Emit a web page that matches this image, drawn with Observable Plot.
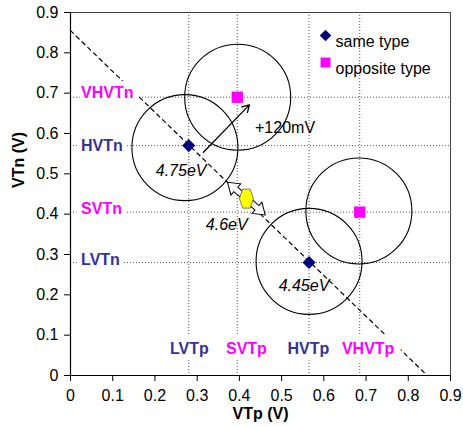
<!DOCTYPE html>
<html>
<head>
<meta charset="utf-8">
<script src="https://cdn.jsdelivr.net/npm/d3@7"></script>
<script src="https://cdn.jsdelivr.net/npm/@observablehq/plot@0.6"></script>
<style>
  html, body { margin: 0; padding: 0; background: #fff; }
  #chart { width: 463px; height: 427px; }
</style>
</head>
<body>
<div id="chart"></div>
<script>
// ---- data ----
const axisTicks = [0, 0.1, 0.2, 0.3, 0.4, 0.5, 0.6, 0.7, 0.8, 0.9];

const sameTypeX = [0.28, 0.565];
const sameTypeY = [0.57, 0.28];
const oppTypeX = [0.395, 0.685];
const oppTypeY = [0.69, 0.405];

const circleX = [0.271, 0.396, 0.565, 0.683];
const circleY = [0.565, 0.690, 0.283, 0.408];

const gridXValues = [0.28, 0.395, 0.565, 0.685];
const gridYValues = [0.28, 0.405, 0.57, 0.69];

const pLabels = ["LVTp", "SVTp", "HVTp", "VHVTp"];
const pLabelX = [0.2815, 0.4166, 0.5635, 0.705];
const pLabelY = [0.066, 0.066, 0.066, 0.066];
const nLabels = ["VHVTn", "HVTn", "SVTn", "LVTn"];
const nLabelX = [0.025, 0.025, 0.025, 0.025];
const nLabelY = [0.70, 0.57, 0.414, 0.287];
const pLabelKind = ["same", "opp", "same", "opp"];
const nLabelKind = ["opp", "same", "opp", "same"];

const diagX = [0, 0.845];
const diagY = [0.855, 0];

const wfLabels = ["4.75eV", "4.6eV", "4.45eV"];
const wfX = [0.262, 0.370, 0.553];
const wfY = [0.508, 0.374, 0.223];

const shiftLabel = ["+120mV"];
const shiftLabelX = [0.437];
const shiftLabelY = [0.615];
const shiftArrow = {x1: 0.3148, y1: 0.5534, x2: 0.4237, y2: 0.671};

const midX = [0.4166];
const midY = [0.4385];

const legendNames = ["same type", "opposite type"];

// ---- styling ----
const navy = "#000080";
const labelNavy = "#333399";
const magenta = "#ff00ff";
const colorOf = k => (k === "same" ? labelNavy : magenta);

const hexagon = {
  draw(ctx) {
    ctx.moveTo(-7, 0);
    ctx.lineTo(-3.8, -9.5);
    ctx.lineTo(3.8, -9.5);
    ctx.lineTo(7, 0);
    ctx.lineTo(3.8, 9.5);
    ctx.lineTo(-3.8, 9.5);
    ctx.closePath();
  }
};

const doubleBlockArrow = {
  draw(ctx, l) {
    const hw = 3, HW = 7.5, HL = 11;
    ctx.moveTo(0, 0);
    ctx.lineTo(HW, -HL);
    ctx.lineTo(hw, -HL);
    ctx.lineTo(hw, -l + HL);
    ctx.lineTo(HW, -l + HL);
    ctx.lineTo(0, -l);
    ctx.lineTo(-HW, -l + HL);
    ctx.lineTo(-hw, -l + HL);
    ctx.lineTo(-hw, -HL);
    ctx.lineTo(-HW, -HL);
    ctx.closePath();
  }
};

const idx = a => a.map((_, i) => i);

const chart = Plot.plot({
  width: 463,
  height: 427,
  marginLeft: 70,
  marginRight: 13,
  marginTop: 12,
  marginBottom: 52,
  style: {fontFamily: "'Liberation Sans', Arial, sans-serif", fontSize: "16px", background: "#fff", color: "#000"},
  x: {domain: [0, 0.9]},
  y: {domain: [0, 0.9]},
  marks: [
    // dotted reference lines
    Plot.ruleX(gridXValues, {x: d => d, stroke: "#555", strokeDasharray: "1,2", strokeWidth: 1}),
    Plot.ruleY(gridYValues, {y: d => d, stroke: "#555", strokeDasharray: "1,2", strokeWidth: 1}),
    // frame
    Plot.frame({stroke: "#444", strokeWidth: 1}),
    // diagonal dashed line
    Plot.line(idx(diagX), {x: i => diagX[i], y: i => diagY[i], stroke: "#000", strokeWidth: 1.2, strokeDasharray: "4,4"}),
    // circles
    Plot.dot(idx(circleX), {x: i => circleX[i], y: i => circleY[i], r: 53, stroke: "#000", strokeWidth: 1.1, fill: "none"}),
    // category labels with white backgrounds
    Plot.text(idx(pLabels), {x: i => pLabelX[i], y: i => pLabelY[i], text: i => pLabels[i], fill: i => colorOf(pLabelKind[i]), stroke: "white", strokeWidth: 14, paintOrder: "stroke", fontWeight: "bold", fontSize: 16}),
    Plot.text(idx(nLabels), {x: i => nLabelX[i], y: i => nLabelY[i], text: i => nLabels[i], fill: i => colorOf(nLabelKind[i]), stroke: "white", strokeWidth: 10, paintOrder: "stroke", fontWeight: "bold", fontSize: 16, textAnchor: "start"}),
    // +120mV arrow
    Plot.arrow([shiftArrow], {x1: "x1", y1: "y1", x2: "x2", y2: "y2", stroke: "#000", strokeWidth: 1.3, headLength: 9}),
    Plot.text(idx(shiftLabel), {x: i => shiftLabelX[i], y: i => shiftLabelY[i], text: i => shiftLabel[i], textAnchor: "start", fontSize: 16, fill: "#000"}),
    // work function labels
    Plot.text(idx(wfLabels), {x: i => wfX[i], y: i => wfY[i], text: i => wfLabels[i], fontStyle: "italic", fontSize: 16, fill: "#000"}),
    // double block arrow + hexagon
    Plot.vector(idx(midX), {x: i => midX[i], y: i => midY[i], length: 50, rotate: -49, shape: doubleBlockArrow, anchor: "middle", fill: "white", stroke: "#000", strokeWidth: 1, strokeLinejoin: "miter"}),
    Plot.dot(idx(midX), {x: i => midX[i], y: i => midY[i], symbol: hexagon, r: 8, fill: "#ffff00", stroke: "#444", strokeWidth: 0.7}),
    // data points
    Plot.dot(idx(sameTypeX), {x: i => sameTypeX[i], y: i => sameTypeY[i], symbol: "diamond2", r: 5.9, fill: navy, stroke: "none"}),
    Plot.dot(idx(oppTypeX), {x: i => oppTypeX[i], y: i => oppTypeY[i], symbol: "square", r: 6.4, fill: magenta, stroke: "none"}),
    // legend
    Plot.dot([legendNames[0]], {frameAnchor: "top-left", dx: 255, dy: 23, symbol: "diamond2", r: 5.2, fill: navy}),
    Plot.dot([legendNames[1]], {frameAnchor: "top-left", dx: 255, dy: 50, symbol: "square", r: 5.6, fill: magenta}),
    Plot.text([legendNames[0]], {frameAnchor: "top-left", dx: 265, dy: 23, text: d => d, textAnchor: "start", fontSize: 16, fill: "#000"}),
    Plot.text([legendNames[1]], {frameAnchor: "top-left", dx: 265, dy: 50, text: d => d, textAnchor: "start", fontSize: 16, fill: "#000"}),
    // axes
    Plot.axisX({ticks: axisTicks, tickFormat: d => String(d), tickSize: 6, tickPadding: 8, label: null, fontSize: 16}),
    Plot.axisY({ticks: axisTicks, tickFormat: d => String(d), tickSize: 6, tickPadding: 6, label: null, fontSize: 16}),
    Plot.ruleX([0], {stroke: "#000", strokeWidth: 1.2}),
    Plot.ruleY([0], {stroke: "#000", strokeWidth: 1.2}),
    // axis titles
    Plot.text(["VTp (V)"], {frameAnchor: "bottom", dy: 43, text: d => d, fontWeight: "bold", fontSize: 16, fill: "#000"}),
    Plot.text(["VTn (V)"], {frameAnchor: "left", dx: -52, dy: -6, rotate: -90, text: d => d, fontWeight: "bold", fontSize: 16, fill: "#000"})
  ]
});
document.getElementById("chart").appendChild(chart);
</script>
</body>
</html>
